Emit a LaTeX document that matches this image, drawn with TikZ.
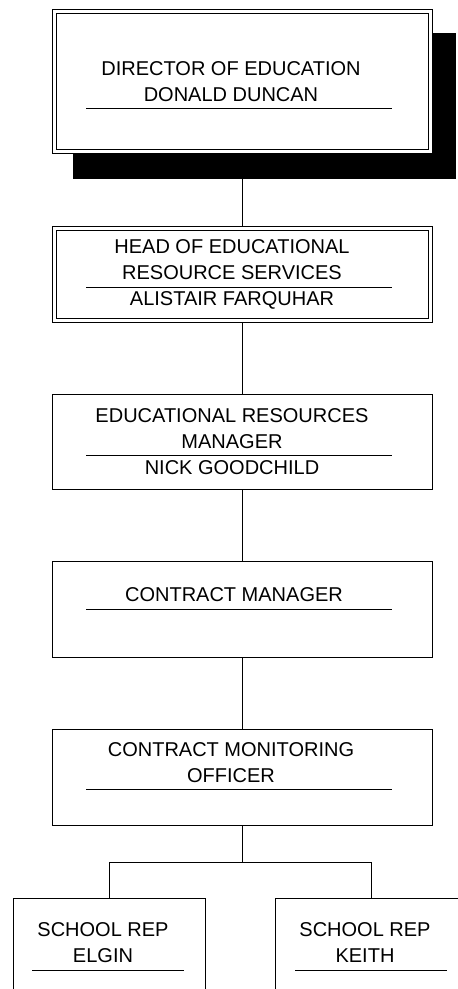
\documentclass[tikz,border=0pt]{standalone}
\usepackage{fontspec}
\setmainfont{Liberation Sans}
\usetikzlibrary{
  positioning,
  calc,
  backgrounds
}
\definecolor{ocInk}{HTML}{000000}
\tikzset{
  ocnode/.style={
    draw=ocInk, line width=1pt, fill=white, inner sep=0pt, outer sep=0pt, anchor=north
  },
  ocbox/.style={ocnode, minimum width=380pt, minimum height=96pt},
  ocdouble/.style={ocnode, double=white, double distance=3pt, minimum width=376pt},
  ocrep/.style={ocnode, minimum width=192pt, minimum height=130pt},
  octext/.style={font=\fontsize{20}{26}\selectfont, align=center, inner sep=0pt, anchor=north, text=ocInk},
  ocrule/.style={line width=1pt, ocInk},
  ocline/.style={line width=1pt, ocInk},
  ocshadow/.style={fill=ocInk}
}
\begin{document}
\begin{tikzpicture}[x=1pt, y=-1pt]
  \path[use as bounding box, clip] (0,0) rectangle (458,989);
  % director
  \node[ocdouble, minimum height=140pt] (dir) at (242,11) {};
  \node[octext] (dirT) at (231,61) {DIRECTOR OF EDUCATION\\DONALD DUNCAN};
  \draw[ocrule] (86,108) -- (392,108);
  % head of service
  \node[ocdouble, minimum height=92pt] (head) at (242,228) {};
  \node[octext] (headT) at (232,239) {HEAD OF EDUCATIONAL\\RESOURCE SERVICES\\ALISTAIR FARQUHAR};
  \draw[ocrule] (86,287) -- (392,287);
  % resources manager
  \node[ocbox, minimum height=95pt] (res) at (242,394) {};
  \node[octext] (resT) at (232,408) {EDUCATIONAL RESOURCES\\MANAGER\\NICK GOODCHILD};
  \draw[ocrule] (86,455) -- (392,455);
  % contract manager
  \node[ocbox] (cm) at (242,561) {};
  \node[octext] (cmT) at (234,587) {CONTRACT MANAGER};
  \draw[ocrule] (86,609) -- (392,609);
  % monitoring
  \node[ocbox] (mon) at (242,729) {};
  \node[octext] (monT) at (231,742) {CONTRACT MONITORING\\OFFICER};
  \draw[ocrule] (86,789) -- (392,789);
  % school reps
  \node[ocrep] (elgin) at (109,898) {};
  \node[ocrep] (keith) at (371,898) {};
  \node[octext] (elginT) at (103,922) {SCHOOL REP\\ELGIN};
  \node[octext] (keithT) at (365,922) {SCHOOL REP\\KEITH};
  \draw[ocrule] (32,970) -- (184,970);
  \draw[ocrule] (295,970) -- (447,970);
  % shadow and links
  \begin{scope}[on background layer]
    \fill[ocshadow] ($(dir.north west)+(19,22)$) rectangle ($(dir.south east)+(26,28)$);
    \coordinate (fork) at (242,862);
    \draw[ocline] (dir.south) -- (head.north);
    \draw[ocline] (head.south) -- (res.north);
    \draw[ocline] (res.south) -- (cm.north);
    \draw[ocline] (cm.south) -- (mon.north);
    \draw[ocline] (mon.south) -- (fork);
    \draw[ocline] (fork) -| (elgin.north);
    \draw[ocline] (fork) -| (keith.north);
  \end{scope}
\end{tikzpicture}
\end{document}
